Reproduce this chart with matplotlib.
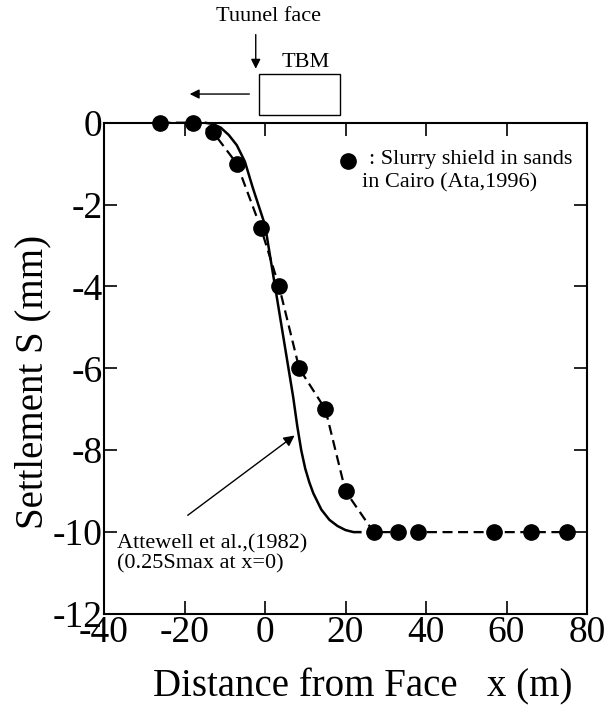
import matplotlib
matplotlib.use("Agg")
import matplotlib.pyplot as plt
from matplotlib.patches import Rectangle

plt.rcParams['font.family'] = ['Liberation Serif', 'DejaVu Serif']

# Measured data: slurry shield in sands in Cairo (Ata, 1996)
obs_x = [-26, -18, -13, -7, -1, 3.5, 8.5, 15, 20, 27, 33, 38, 57, 66, 75]
obs_s = [0, 0, -0.22, -1.0, -2.58, -4.0, -6.0, -7.0, -9.0, -10, -10, -10, -10, -10, -10]

# Attewell et al. (1982) curve
att_x = [-15, -13, -11, -9, -7, -5, -3, -1, 0, 1, 2, 3, 4, 5, 6, 7, 8, 9, 10, 11, 12,
         14, 16, 18, 20, 22, 24]
att_s = [0, -0.03, -0.12, -0.3, -0.55, -0.95, -1.6, -2.2, -2.5, -3.1, -3.7, -4.3, -4.9,
         -5.5, -6.1, -6.7, -7.4, -8.0, -8.45, -8.78, -9.05, -9.45, -9.7, -9.85, -9.95,
         -10, -10]

xticks = [-40, -20, 0, 20, 40, 60, 80]
yticks = [0, -2, -4, -6, -8, -10, -12]

fig = plt.figure(figsize=(6.09, 7.06), dpi=100)
ax = fig.add_axes([104/609, 1-614/706, 483/609, 491.3/706])

ax.plot(att_x, att_s, color='black', lw=1.8, solid_capstyle='butt',
        solid_joinstyle='round', clip_on=False, zorder=3)
ax.plot(obs_x, obs_s, color='black', lw=1.6, dashes=(4.5, 2.5), marker='o', ms=11,
        markerfacecolor='black', markeredgecolor='black', clip_on=False, zorder=4)

ax.set_xlim(-40, 80)
ax.set_ylim(-12, 0)
ax.set_xticks(xticks)
ax.set_yticks(yticks)
ax.set_xticklabels([str(v) for v in xticks])
ax.set_yticklabels([str(v) for v in yticks])
ax.tick_params(direction='in', length=9.5, width=1.2, top=True, right=True,
               labelsize=27, pad=1)
for sp in ax.spines.values():
    sp.set_linewidth(1.5)

ax.set_xlabel('Distance from Face   x (m)', fontsize=28)
ax.xaxis.label.set_va('center')
ax.xaxis.set_label_coords((363 - 104) / 483, (614 - 687) / 491.3)
ax.set_ylabel('Settlement S (mm)', fontsize=28)
ax.yaxis.label.set_va('center')
ax.yaxis.set_label_coords((33 - 104) / 483, (614 - 382) / 491.3)

# Legend-like annotation
ax.plot([20.5], [-0.93], 'o', color='black', ms=11, clip_on=False)
ax.text(25.9, -0.9, ': Slurry shield in sands', fontsize=16, va='center', ha='left')
ax.text(24.2, -1.48, 'in Cairo (Ata,1996)', fontsize=16, va='center', ha='left')

# Attewell annotation
ax.text(-36.8, -10.28, 'Attewell et al.,(1982)', fontsize=16, va='center', ha='left')
ax.text(-36.8, -10.77, '(0.25Smax at x=0)', fontsize=16, va='center', ha='left')
ax.annotate('', xy=(7.9, -7.6), xytext=(-19.75, -9.63),
            arrowprops=dict(arrowstyle='-|>', color='black', lw=1.0, mutation_scale=16))

# Tunnel face & TBM sketch above the axes
ax.text(0.75, 2.6, 'Tuunel face', fontsize=16, ha='center', va='center', clip_on=False)
ax.annotate('', xy=(-2.3, 1.25), xytext=(-2.3, 2.22), annotation_clip=False,
            arrowprops=dict(arrowstyle='-|>', color='black', lw=1.0, mutation_scale=14))
ax.add_patch(Rectangle((-1.5, 0.19), 20.1, 1.0, fill=False, edgecolor='black', lw=1.0,
                       clip_on=False))
ax.text(10.1, 1.48, 'TBM', fontsize=16, ha='center', va='center', clip_on=False)
ax.annotate('', xy=(-19.4, 0.70), xytext=(-3.2, 0.70), annotation_clip=False,
            arrowprops=dict(arrowstyle='-|>', color='black', lw=1.0, mutation_scale=14))

fig.savefig('out.png', dpi=100)
